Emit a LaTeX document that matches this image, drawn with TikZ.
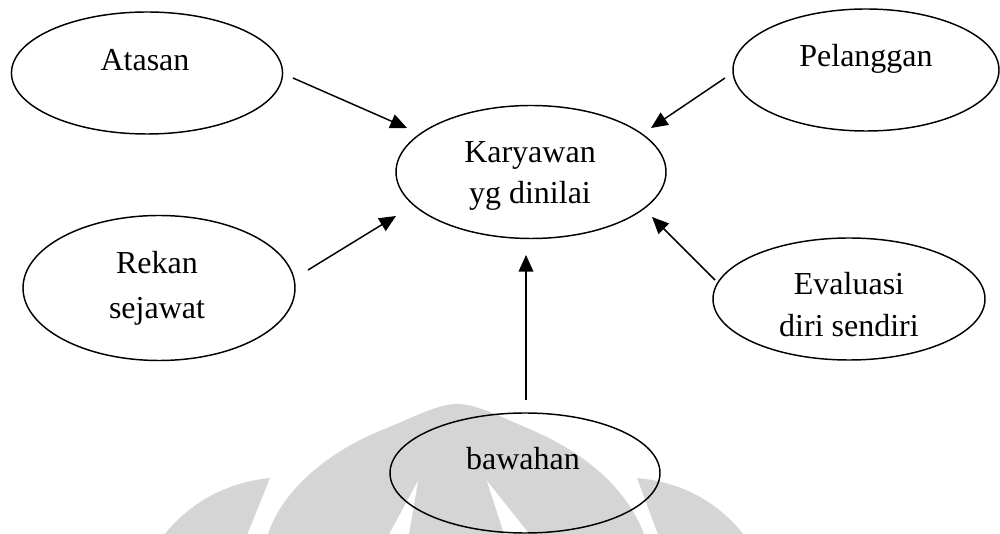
\documentclass[tikz,border=0pt]{standalone}
\usepackage{fontspec}
\setmainfont{Liberation Serif}
\usetikzlibrary{shapes.geometric,arrows.meta}
\definecolor{markgray}{RGB}{213,213,213}
\begin{document}
\begin{tikzpicture}[x=0.75pt,y=-0.75pt,
  oval/.style={draw,line width=1.1pt,ellipse,inner sep=0pt},
  lbl/.style={font=\fontsize{24}{30}\selectfont,align=center,inner sep=0pt,anchor=base},
  link/.style={line width=1.1pt,-{Triangle[length=12.5pt,width=11pt]}}]
\useasboundingbox (0,0) rectangle (1000,534);

% background emblem
\begin{scope}
\clip (0,0) rectangle (1000,534);
\fill[markgray] (160,540) .. controls (190,500) and (230,482) .. (270,478) -- (245,540) -- cycle;
\fill[markgray] (266,540) .. controls (280,490) and (330,450) .. (387,428)
  .. controls (420,414) and (440,404) .. (457,404)
  .. controls (475,404) and (495,414) .. (527,428)
  .. controls (585,452) and (630,490) .. (646,540) -- cycle;
\fill[markgray] (748,540) .. controls (718,500) and (680,482) .. (637,478) -- (660,540) -- cycle;
\fill[white] (386,540) -- (418,481) -- (408,540) -- cycle;
\fill[white] (487,481) -- (534,540) -- (506,540) -- cycle;
\end{scope}

% ellipses
\node[oval,minimum width=203.3pt,minimum height=91.5pt] (atasan) at (147,73) {};
\node[oval,minimum width=199.5pt,minimum height=91.5pt] (pelanggan) at (866,70) {};
\node[oval,minimum width=202.5pt,minimum height=99.75pt] (karyawan) at (531,172) {};
\node[oval,minimum width=204pt,minimum height=108.75pt] (rekan) at (159,288) {};
\node[oval,minimum width=204pt,minimum height=91.5pt] (evaluasi) at (849,299) {};
\node[oval,minimum width=202.5pt,minimum height=90pt] (bawahan) at (525,473) {};

% labels (for two-line labels the base anchor sits on the lower line)
\node[lbl] (atasan-t) at (145,71) {Atasan};
\node[lbl] (pelanggan-t) at (866,67) {Pelanggan};
\node[lbl,font=\fontsize{24}{30.75}\selectfont] (karyawan-t) at (530,204) {Karyawan\\yg dinilai};
\node[lbl,font=\fontsize{24}{33.75}\selectfont] (rekan-t) at (157,319) {Rekan\\sejawat};
\begin{scope}
\clip (700,240) rectangle (1000,338);
\node[lbl,font=\fontsize{24}{31.5}\selectfont] (evaluasi-t) at (849,337) {Evaluasi\\diri sendiri};
\end{scope}
\node[lbl] (bawahan-t) at (523,470) {bawahan};

% connector ends
\coordinate (a0) at (293,78);  \coordinate (a1) at (407,128);
\coordinate (r0) at (308,270); \coordinate (r1) at (396,216);
\coordinate (p0) at (725,78);  \coordinate (p1) at (651,128);
\coordinate (e0) at (715,280); \coordinate (e1) at (652,217);
\coordinate (b0) at (526,400); \coordinate (b1) at (526,255);

\draw[link] (a0) -- (a1);
\draw[link] (r0) -- (r1);
\draw[link] (p0) -- (p1);
\draw[link] (e0) -- (e1);
\draw[link] (b0) -- (b1);
\end{tikzpicture}
\end{document}
